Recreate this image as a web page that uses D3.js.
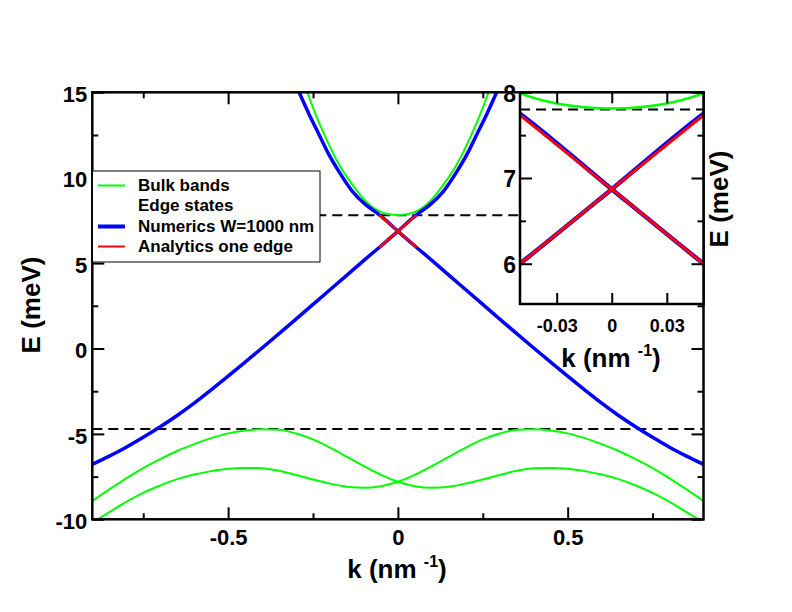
<!DOCTYPE html>
<html lang="en">
<head>
  <meta charset="UTF-8">
  <title>Edge states</title>
  <script src="https://cdn.jsdelivr.net/npm/d3@7"></script>
  <style>
    body { margin: 0; background: #fff; }
    svg text { font-family: "Liberation Sans", Arial, Helvetica, sans-serif; font-weight: bold; }
  </style>
</head>
<body>
<div id="container"></div>
<script>
  // ---- data (k in nm^-1, E in meV) ----
  // upper bulk band (conduction)
  var bulkUpK = [-0.272, -0.266, -0.242, -0.212, -0.173, -0.134, -0.095, -0.07, -0.05, -0.03, 0, 0.03, 0.05, 0.07, 0.095, 0.134, 0.173, 0.212, 0.242, 0.266, 0.272];
  var bulkUpE = [15.3, 14.96, 13.69, 12.32, 10.76, 9.59, 8.62, 8.2, 7.99, 7.87, 7.81, 7.87, 7.99, 8.2, 8.62, 9.59, 10.76, 12.32, 13.69, 14.96, 15.3];

  // lower bulk bands, two branches crossing at k = 0
  var bulkLowK = [-0.9, -0.85, -0.8, -0.75, -0.7, -0.65, -0.6, -0.55, -0.5, -0.45, -0.4, -0.35, -0.3, -0.25, -0.2, -0.15, -0.1, -0.05,
                  0, 0.05, 0.1, 0.15, 0.2, 0.25, 0.3, 0.35, 0.4, 0.45, 0.5, 0.55, 0.6, 0.65, 0.7, 0.75, 0.8, 0.85, 0.9];
  var bulkLowA = [-10.2, -9.58, -8.98, -8.45, -8.02, -7.65, -7.38, -7.18, -7.04, -6.99, -7.01, -7.16, -7.41, -7.67, -7.91, -8.09, -8.15, -8.06,
                  -7.8, -7.4, -6.89, -6.34, -5.8, -5.32, -4.98, -4.76, -4.73, -4.8, -4.97, -5.25, -5.6, -6.0, -6.48, -7.0, -7.6, -8.25, -8.93];
  var bulkLowB = [-8.93, -8.25, -7.6, -7.0, -6.48, -6.0, -5.6, -5.25, -4.97, -4.8, -4.73, -4.76, -4.98, -5.32, -5.8, -6.34, -6.89, -7.4,
                  -7.8, -8.06, -8.15, -8.09, -7.91, -7.67, -7.41, -7.16, -7.01, -6.99, -7.04, -7.18, -7.38, -7.65, -8.02, -8.45, -8.98, -9.58, -10.2];

  // numerics W=1000 nm, edge states (two branches)
  var edge1K = [-0.9, -0.85, -0.8, -0.75, -0.7, -0.65, -0.6, -0.55, -0.5, -0.45, -0.4, -0.35, -0.3, -0.25, -0.2, -0.15, -0.1, -0.05,
                0, 0.05, 0.066, 0.095, 0.134, 0.174, 0.203, 0.232, 0.261, 0.29, 0.3];
  var edge1E = [-6.78, -6.3, -5.78, -5.2, -4.58, -3.92, -3.2, -2.42, -1.62, -0.8, 0.03, 0.87, 1.72, 2.58, 3.44, 4.3, 5.16, 6.0,
                6.87, 7.75, 8.0, 8.42, 9.2, 10.37, 11.35, 12.52, 13.69, 14.96, 15.4];
  var edge2K = [-0.3, -0.29, -0.261, -0.232, -0.203, -0.174, -0.134, -0.095, -0.066, -0.05,
                0, 0.05, 0.1, 0.15, 0.2, 0.25, 0.3, 0.35, 0.4, 0.45, 0.5, 0.55, 0.6, 0.65, 0.7, 0.75, 0.8, 0.85, 0.9];
  var edge2E = [15.4, 14.96, 13.69, 12.52, 11.35, 10.37, 9.2, 8.42, 8.0, 7.75,
                6.87, 6.0, 5.16, 4.3, 3.44, 2.58, 1.72, 0.87, 0.03, -0.8, -1.62, -2.42, -3.2, -3.92, -4.58, -5.2, -5.78, -6.3, -6.78];

  // analytics, one edge
  var analyticK = [-0.055, 0, 0.055];
  var analyticE1 = [5.91, 6.87, 7.82];
  var analyticE2 = [7.82, 6.87, 5.91];

  // gap edges (dashed)
  var gapLines = [7.8, -4.72];

  var xTicks = [-0.5, 0, 0.5];
  var xMinor = [-0.75, -0.25, 0.25, 0.75];
  var yTicks = [-10, -5, 0, 5, 10, 15];
  var yMinor = [-7.5, -2.5, 2.5, 7.5, 12.5];
  var insetXTicks = [-0.03, 0, 0.03];
  var insetYTicks = [6, 7, 8];
  var insetYMinor = [6.5, 7.5];

  var legendNames = ["Bulk bands", "Edge states", "Numerics W=1000 nm", "Analytics one edge"];
  var legendColors = ["#00ff00", null, "#0000ff", "#ff0000"];
  var legendWidths = [2, 0, 4, 2];

  // ---- layout ----
  const W = 792, H = 612;
  var svg = d3.select("#container").append("svg")
    .attr("width", W).attr("height", H);
  svg.append("rect").attr("width", W).attr("height", H).attr("fill", "#fff");

  var x = d3.scaleLinear().domain([-0.9, 0.9]).range([92.3, 703.5]);
  var y = d3.scaleLinear().domain([-10, 15]).range([519.3, 92.3]);

  var fmt = function (d) { return String(d); };

  function pts(ks, es) {
    return ks.map(function (k, i) { return [k, es[i]]; });
  }

  // clip for main plot
  svg.append("clipPath").attr("id", "clip-main").append("rect")
    .attr("x", x.range()[0]).attr("y", y.range()[1])
    .attr("width", x.range()[1] - x.range()[0])
    .attr("height", y.range()[0] - y.range()[1]);

  var main = svg.append("g").attr("clip-path", "url(#clip-main)");
  var line = d3.line().x(function (d) { return x(d[0]); }).y(function (d) { return y(d[1]); })
    .curve(d3.curveMonotoneX);

  main.selectAll(".gap").data(gapLines).enter().append("line")
    .attr("x1", x(-0.9)).attr("x2", x(0.9))
    .attr("y1", function (d) { return y(d); }).attr("y2", function (d) { return y(d); })
    .attr("stroke", "#000").attr("stroke-width", 2).attr("stroke-dasharray", "10,6");

  var greens = [pts(bulkUpK, bulkUpE), pts(bulkLowK, bulkLowA), pts(bulkLowK, bulkLowB)];
  main.selectAll(".bulk").data(greens).enter().append("path")
    .attr("d", line).attr("fill", "none").attr("stroke", "#00ff00").attr("stroke-width", 2);

  var blues = [pts(edge1K, edge1E), pts(edge2K, edge2E)];
  main.selectAll(".edge").data(blues).enter().append("path")
    .attr("d", line).attr("fill", "none").attr("stroke", "#0000ff").attr("stroke-width", 3.5);

  var reds = [pts(analyticK, analyticE1), pts(analyticK, analyticE2)];
  main.selectAll(".ana").data(reds).enter().append("path")
    .attr("d", line).attr("fill", "none").attr("stroke", "#ff0000").attr("stroke-width", 2.5);

  // axes of main plot, ticks pointing inward on all four sides
  function styleAxis(g) {
    g.select(".domain").remove();
    g.selectAll(".tick line").attr("stroke", "#000").attr("stroke-width", 2);
    g.selectAll("text").attr("fill", "#000");
  }
  var x0 = x.range()[0], x1 = x.range()[1], y0 = y.range()[0], y1 = y.range()[1];

  svg.append("g").attr("transform", "translate(0," + y0 + ")")
    .call(d3.axisBottom(x).tickValues(xTicks).tickSize(-12).tickPadding(10).tickFormat(fmt))
    .call(styleAxis).selectAll("text").style("font-size", "22px");
  svg.append("g").attr("transform", "translate(0," + y0 + ")")
    .call(d3.axisBottom(x).tickValues(xMinor).tickSize(-6).tickFormat("")).call(styleAxis);
  svg.append("g").attr("transform", "translate(0," + y1 + ")")
    .call(d3.axisTop(x).tickValues(xTicks).tickSize(-12).tickFormat("")).call(styleAxis);
  svg.append("g").attr("transform", "translate(0," + y1 + ")")
    .call(d3.axisTop(x).tickValues(xMinor).tickSize(-6).tickFormat("")).call(styleAxis);

  svg.append("g").attr("transform", "translate(" + x0 + ",0)")
    .call(d3.axisLeft(y).tickValues(yTicks).tickSize(-12).tickPadding(5).tickFormat(fmt))
    .call(styleAxis).selectAll("text").style("font-size", "22px").attr("dy", "0.42em");
  svg.append("g").attr("transform", "translate(" + x0 + ",0)")
    .call(d3.axisLeft(y).tickValues(yMinor).tickSize(-6).tickFormat("")).call(styleAxis);
  svg.append("g").attr("transform", "translate(" + x1 + ",0)")
    .call(d3.axisRight(y).tickValues(yTicks).tickSize(-12).tickFormat("")).call(styleAxis);
  svg.append("g").attr("transform", "translate(" + x1 + ",0)")
    .call(d3.axisRight(y).tickValues(yMinor).tickSize(-6).tickFormat("")).call(styleAxis);

  svg.append("rect").attr("x", x0).attr("y", y1).attr("width", x1 - x0).attr("height", y0 - y1)
    .attr("fill", "none").attr("stroke", "#000").attr("stroke-width", 2.5);

  // axis titles
  function kLabel(g, size, supSize) {
    var t = g.append("text").attr("text-anchor", "middle").style("font-size", size + "px").attr("fill", "#000");
    t.append("tspan").text("k (nm ");
    t.append("tspan").text("-1").style("font-size", supSize + "px").attr("dy", -11);
    t.append("tspan").text(")").attr("dy", 11);
    return t;
  }
  kLabel(svg, 26, 16).attr("x", 397).attr("y", 578);
  svg.append("text").attr("transform", "translate(40,305) rotate(-90)")
    .attr("text-anchor", "middle").style("font-size", "26px").text("E (meV)");

  // legend
  var leg = svg.append("g");
  leg.append("rect").attr("x", 92.5).attr("y", 171).attr("width", 227.5).attr("height", 91)
    .attr("fill", "#fff").attr("stroke", "#000").attr("stroke-width", 1);
  var rowsY = [191, 211, 232, 252];
  legendNames.forEach(function (name, i) {
    if (legendColors[i]) {
      leg.append("line").attr("x1", 98).attr("x2", 125)
        .attr("y1", rowsY[i] - 5.5).attr("y2", rowsY[i] - 5.5)
        .attr("stroke", legendColors[i]).attr("stroke-width", legendWidths[i]);
    }
    leg.append("text").attr("x", 138).attr("y", rowsY[i]).style("font-size", "17px").text(name);
  });

  // ---- inset ----
  var ix = d3.scaleLinear().domain([-0.05, 0.05]).range([520, 703.5]);
  var iy = d3.scaleLinear().domain([5.53, 8]).range([304, 92.3]);
  var ix0 = ix.range()[0], ix1 = ix.range()[1], iy0 = iy.range()[0], iy1 = iy.range()[1];

  svg.append("rect").attr("x", ix0).attr("y", iy1).attr("width", ix1 - ix0).attr("height", iy0 - iy1)
    .attr("fill", "#fff");
  svg.append("clipPath").attr("id", "clip-inset").append("rect")
    .attr("x", ix0).attr("y", iy1).attr("width", ix1 - ix0).attr("height", iy0 - iy1);
  var inset = svg.append("g").attr("clip-path", "url(#clip-inset)");
  var iline = d3.line().x(function (d) { return ix(d[0]); }).y(function (d) { return iy(d[1]); })
    .curve(d3.curveMonotoneX);

  inset.append("line").attr("x1", ix0).attr("x2", ix1)
    .attr("y1", iy(gapLines[0])).attr("y2", iy(gapLines[0]))
    .attr("stroke", "#000").attr("stroke-width", 2).attr("stroke-dasharray", "10,6");
  inset.append("path").datum(greens[0]).attr("d", iline)
    .attr("fill", "none").attr("stroke", "#00ff00").attr("stroke-width", 2.5);
  inset.selectAll(".iedge").data(blues).enter().append("path")
    .attr("d", iline).attr("fill", "none").attr("stroke", "#0000ff").attr("stroke-width", 4.5);
  inset.selectAll(".iana").data(reds).enter().append("path")
    .attr("d", iline).attr("fill", "none").attr("stroke", "#ff0000").attr("stroke-width", 3);

  svg.append("g").attr("transform", "translate(0," + iy0 + ")")
    .call(d3.axisBottom(ix).tickValues(insetXTicks).tickSize(-11).tickPadding(15).tickFormat(fmt))
    .call(styleAxis).selectAll("text").style("font-size", "18px");
  svg.append("g").attr("transform", "translate(0," + iy1 + ")")
    .call(d3.axisTop(ix).tickValues(insetXTicks).tickSize(-11).tickFormat("")).call(styleAxis);
  svg.append("g").attr("transform", "translate(" + ix0 + ",0)")
    .call(d3.axisLeft(iy).tickValues(insetYTicks).tickSize(-12).tickPadding(4).tickFormat(fmt))
    .call(styleAxis).selectAll("text").style("font-size", "23px").attr("dy", "0.38em");
  svg.append("g").attr("transform", "translate(" + ix0 + ",0)")
    .call(d3.axisLeft(iy).tickValues(insetYMinor).tickSize(-6).tickFormat("")).call(styleAxis);
  svg.append("g").attr("transform", "translate(" + ix1 + ",0)")
    .call(d3.axisRight(iy).tickValues(insetYTicks).tickSize(-12).tickFormat("")).call(styleAxis);
  svg.append("g").attr("transform", "translate(" + ix1 + ",0)")
    .call(d3.axisRight(iy).tickValues(insetYMinor).tickSize(-6).tickFormat("")).call(styleAxis);

  svg.append("rect").attr("x", ix0).attr("y", iy1).attr("width", ix1 - ix0).attr("height", iy0 - iy1)
    .attr("fill", "none").attr("stroke", "#000").attr("stroke-width", 2.5);

  kLabel(svg, 26, 16).attr("x", 611).attr("y", 367);
  svg.append("text").attr("transform", "translate(728,199) rotate(-90)")
    .attr("text-anchor", "middle").style("font-size", "26px").text("E (meV)");
</script>
</body>
</html>
